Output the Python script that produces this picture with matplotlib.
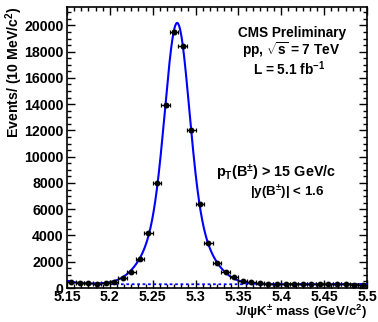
import numpy as np
import matplotlib
matplotlib.use('Agg')
from matplotlib import pyplot
from matplotlib.ticker import MultipleLocator

pyplot.rcParams['font.family'] = ['Liberation Sans', 'DejaVu Sans']
pyplot.rcParams['font.weight'] = 'bold'
pyplot.rcParams['mathtext.fontset'] = 'custom'
pyplot.rcParams['mathtext.rm'] = 'Liberation Sans:bold'
pyplot.rcParams['mathtext.bf'] = 'Liberation Sans:bold'
pyplot.rcParams['mathtext.it'] = 'Liberation Sans:bold'
pyplot.rcParams['mathtext.default'] = 'bf'

# DATA
# bin centres (GeV/c^2), 10 MeV bins
mass = [5.155, 5.165, 5.175, 5.185, 5.195, 5.205, 5.215, 5.225, 5.235, 5.245,
        5.255, 5.265, 5.275, 5.285, 5.295, 5.305, 5.315, 5.325, 5.335, 5.345,
        5.355, 5.365, 5.375, 5.385, 5.395, 5.405, 5.415, 5.425, 5.435, 5.445,
        5.455, 5.465, 5.475, 5.485, 5.495]
counts = [470, 400, 360, 340, 350, 480, 740, 1200, 2200, 4200,
          8000, 13900, 19500, 18400, 12000, 6400, 3400, 1900, 1200, 820,
          560, 440, 370, 330, 320, 300, 310, 290, 300, 280,
          290, 270, 280, 260, 250]
binwidth = 0.01

# fit result (double gaussian signal + flat background + low-mass tail)
fit_mean = 5.2785
fit_sigma1 = 0.0135
fit_sigma2 = 0.029
fit_amp1 = 14000
fit_amp2 = 5900
fit_bkg = 285
fit_tail_amp = 250
fit_tail_tau = 0.015

xmin, xmax = 5.15, 5.5
ymax = 21400


def background(x):
    return fit_bkg + fit_tail_amp * np.exp(-(x - xmin) / fit_tail_tau)


def model(x):
    sig = fit_amp1 * np.exp(-0.5 * ((x - fit_mean) / fit_sigma1) ** 2) \
        + fit_amp2 * np.exp(-0.5 * ((x - fit_mean) / fit_sigma2) ** 2)
    return sig + background(x)


W, H = 378, 322
fig = pyplot.figure(figsize=(W / 100.0, H / 100.0), dpi=100)
ax = fig.add_axes([67.0 / W, (H - 288.0) / H, 300.0 / W, 281.0 / H])

xs = np.linspace(xmin, xmax, 800)
ax.plot(xs, background(xs), color='#0000ff', lw=1.3, ls=(0, (1.5, 1.5)), zorder=2)
ax.plot(xs, model(xs), color='#0000ff', lw=1.5, zorder=3)

m = np.array(mass)
c = np.array(counts, dtype=float)
ax.errorbar(m, c, xerr=binwidth / 2, yerr=np.sqrt(c), fmt='o', color='black',
            ms=3.2, elinewidth=0.9, capsize=1.6, capthick=0.9, zorder=4)

ax.set_xlim(xmin, xmax)
ax.set_ylim(0, ymax)
ax.xaxis.set_minor_locator(MultipleLocator(0.05 / 6))
ax.yaxis.set_major_locator(MultipleLocator(2000))
ax.yaxis.set_minor_locator(MultipleLocator(500))
ax.set_xticks([5.15, 5.2, 5.25, 5.3, 5.35, 5.4, 5.45, 5.5])
ax.set_xticklabels(['5.15', '5.2', '5.25', '5.3', '5.35', '5.4', '5.45', '5.5'])
ax.tick_params(which='both', direction='in', top=True, right=True, width=1.0,
               labelsize=10.2)
ax.tick_params(axis='x', pad=1.5)
ax.tick_params(axis='y', pad=2.5)
ax.tick_params(which='major', length=5.5)
ax.tick_params(which='minor', length=3)
for sp in ax.spines.values():
    sp.set_linewidth(1.2)

ax.set_xlabel(r'J/$\psi$K$^{\pm}$ mass (GeV/c$^{2}$)', fontsize=9.6,
              fontweight='bold', loc='right', labelpad=-1)
ax.set_ylabel(r'Events/ (10 MeV/c$^{2}$)', fontsize=10.2, fontweight='bold',
              loc='top')
ax.yaxis.set_label_coords(-0.14, 1.0)

# text labels
def ftext(x, y, s, size=9.8):
    fig.text(x / W, 1 - y / H, s, ha='center', va='center', fontsize=size,
             fontweight='bold')

ftext(292.5, 33, 'CMS Preliminary')
ftext(291.5, 50.5, r'pp, $\sqrt{s}$ = 7 TeV')
ftext(289, 68.5, r'L = 5.1 fb$^{-1}$')
ftext(276, 173, r'p$_{T}$(B$^{\pm}$) > 15 GeV/c', size=10.4)
ftext(287.5, 193, r'|y(B$^{\pm}$)| < 1.6', size=9.6)

fig.savefig('out.png', dpi=100)
